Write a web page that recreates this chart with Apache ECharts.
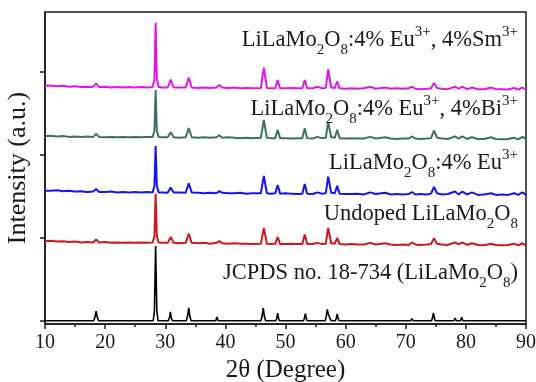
<!DOCTYPE html>
<html>
<head>
<meta charset="utf-8">
<script src="https://cdn.jsdelivr.net/npm/echarts@6.0.0/dist/echarts.min.js"></script>
<style>
  html, body { margin: 0; padding: 0; background: #fff; }
  #chart { width: 536px; height: 382px; }
</style>
</head>
<body>
<div id="chart"></div>
<script>
// XRD patterns: [2theta, intensity above own baseline]
const jcpdsPattern = [
  [10, 0], [18.1, 0], [18.3, 0.04], [18.5, 0.115], [18.7, 0.04], [18.9, 0],
  [28.0, 0], [28.2, 0.12], [28.4, 0.9], [28.6, 0.12], [28.8, 0],
  [30.5, 0], [30.7, 0.035], [30.85, 0.105], [31.0, 0.035], [31.2, 0],
  [33.5, 0], [33.7, 0.05], [33.9, 0.155], [34.1, 0.05], [34.3, 0],
  [38.4, 0], [38.6, 0.045], [38.8, 0], [45.9, 0], [46.1, 0.05], [46.3, 0.15], [46.5, 0.05], [46.7, 0],
  [48.4, 0], [48.55, 0.03], [48.7, 0.09], [48.85, 0.03], [49.0, 0],
  [53.0, 0], [53.15, 0.03], [53.3, 0.085], [53.45, 0.03], [53.6, 0],
  [56.6, 0], [56.8, 0.06], [56.95, 0.135], [57.1, 0.08], [57.25, 0.1], [57.4, 0.03], [57.6, 0],
  [58.3, 0], [58.45, 0.03], [58.6, 0.08], [58.75, 0.03], [58.9, 0],
  [63.9, 0], [64.1, 0.02], [64.3, 0], [66.4, 0], [66.6, 0.015], [66.8, 0],
  [70.8, 0], [71.0, 0.025], [71.2, 0], [74.3, 0], [74.45, 0.035], [74.6, 0.095], [74.75, 0.035], [74.9, 0],
  [78.0, 0], [78.2, 0.03], [78.4, 0], [79.1, 0], [79.3, 0.04], [79.5, 0],
  [80.8, 0], [81.0, 0.02], [81.2, 0], [83.8, 0], [84.0, 0.015], [84.2, 0],
  [87.7, 0], [87.9, 0.015], [88.1, 0], [89.1, 0], [89.3, 0.02], [89.5, 0], [90, 0]
];

const undopedPattern = [
  [10, 0.01], [11, 0.015], [12, 0.005], [13, 0.01], [14, 0], [15, 0.005], [16, -0.005], [17, 0],
  [18.0, -0.005], [18.5, 0.03], [19.0, -0.005], [20, 0], [21, -0.01], [22, -0.005], [23, -0.01],
  [24, -0.005], [25, -0.01], [26, -0.005], [27, -0.01], [27.9, -0.005], [28.2, 0.07], [28.4, 0.58],
  [28.6, 0.07], [28.9, -0.005], [29.5, -0.01], [30.4, -0.01], [30.9, 0.06], [31.4, -0.01],
  [32.3, -0.015], [33.4, -0.01], [33.9, 0.1], [34.4, -0.01], [35.5, -0.015], [36.5, -0.01],
  [37.5, -0.02], [38.5, -0.01], [39.0, 0.01], [39.5, -0.015], [40.5, -0.02], [41.5, -0.015],
  [42.5, -0.02], [43.5, -0.02], [44.5, -0.025], [45.9, -0.02], [46.4, 0.17], [46.9, -0.02],
  [47.5, -0.025], [48.3, -0.02], [48.7, 0.06], [49.1, -0.025], [50, -0.025], [51, -0.02],
  [52, -0.025], [52.8, -0.025], [53.2, 0.09], [53.6, -0.025], [54.5, -0.025], [55.3, -0.01],
  [56, -0.025], [56.7, -0.02], [57.1, 0.17], [57.6, -0.015], [58.2, -0.02], [58.6, 0.05],
  [59.0, -0.025], [60, -0.03], [61, -0.025], [62, -0.03], [63, -0.03], [64.1, -0.01], [65, -0.03],
  [66.6, -0.015], [67.5, -0.03], [68.5, -0.035], [69.5, -0.03], [70.5, -0.035], [71.0, -0.005],
  [71.6, -0.03], [72.5, -0.035], [73.5, -0.03], [74.2, -0.025], [74.7, 0.045], [75.2, -0.02],
  [76, -0.03], [77, -0.035], [78.2, -0.005], [78.8, -0.03], [79.4, -0.005], [80.2, -0.035],
  [81.0, -0.015], [82, -0.035], [83, -0.04], [84.2, -0.02], [85, -0.035], [86, -0.04], [87, -0.035],
  [88.0, -0.02], [88.7, -0.04], [89.4, -0.015], [90, -0.04]
];

const euPattern = [
  [10, 0.01], [11, 0.01], [12, 0.015], [13, 0.005], [14, 0.01], [15, 0], [16, 0.005], [17, -0.005],
  [18.0, 0], [18.5, 0.03], [19.0, -0.005], [20, -0.005], [21, 0], [22, -0.01], [23, -0.005],
  [24, -0.01], [25, -0.005], [26, -0.01], [27, -0.005], [27.9, -0.01], [28.2, 0.07], [28.4, 0.55],
  [28.6, 0.07], [28.9, -0.01], [29.5, -0.01], [30.4, -0.015], [30.9, 0.05], [31.4, -0.01],
  [32.3, -0.01], [33.4, -0.015], [33.9, 0.1], [34.4, -0.01], [35.5, -0.015], [36.5, -0.02],
  [37.5, -0.015], [38.5, -0.02], [39.0, 0.005], [39.5, -0.015], [40.5, -0.02], [41.5, -0.02],
  [42.5, -0.015], [43.5, -0.025], [44.5, -0.02], [45.9, -0.02], [46.4, 0.19], [46.9, -0.02],
  [47.5, -0.025], [48.3, -0.02], [48.7, 0.08], [49.1, -0.025], [50, -0.02], [51, -0.025],
  [52, -0.03], [52.8, -0.025], [53.2, 0.09], [53.6, -0.025], [54.5, -0.03], [55.3, -0.01],
  [56, -0.025], [56.7, -0.02], [57.1, 0.18], [57.6, -0.015], [58.2, -0.02], [58.6, 0.07],
  [59.0, -0.025], [60, -0.03], [61, -0.03], [62, -0.025], [63, -0.035], [64.1, -0.01], [65, -0.03],
  [66.6, -0.015], [67.5, -0.035], [68.5, -0.03], [69.5, -0.035], [70.5, -0.03], [71.0, -0.005],
  [71.6, -0.035], [72.5, -0.03], [73.5, -0.035], [74.2, -0.025], [74.7, 0.055], [75.2, -0.02],
  [76, -0.035], [77, -0.03], [78.2, 0], [78.8, -0.035], [79.4, 0], [80.2, -0.035], [81.0, -0.01],
  [82, -0.04], [83, -0.035], [84.2, -0.02], [85, -0.04], [86, -0.035], [87, -0.04], [88.0, -0.02],
  [88.7, -0.04], [89.4, -0.01], [90, -0.04]
];

const euBiPattern = [
  [10, 0.005], [11, 0.01], [12, 0], [13, 0.005], [14, -0.005], [15, 0], [16, -0.005], [17, 0],
  [18.0, -0.005], [18.5, 0.03], [19.0, -0.005], [20, -0.01], [21, -0.005], [22, -0.01], [23, -0.005],
  [24, -0.01], [25, -0.005], [26, -0.01], [27, -0.005], [27.9, -0.005], [28.2, 0.07], [28.4, 0.56],
  [28.6, 0.07], [28.9, -0.005], [29.5, -0.01], [30.4, -0.01], [30.9, 0.05], [31.4, -0.01],
  [32.3, -0.015], [33.4, -0.01], [33.9, 0.1], [34.4, -0.01], [35.5, -0.015], [36.5, -0.01],
  [37.5, -0.015], [38.5, -0.01], [39.0, 0.015], [39.5, -0.015], [40.5, -0.01], [41.5, -0.015],
  [42.5, -0.02], [43.5, -0.015], [44.5, -0.02], [45.9, -0.015], [46.4, 0.2], [46.9, -0.015],
  [47.5, -0.02], [48.3, -0.02], [48.7, 0.08], [49.1, -0.02], [50, -0.02], [51, -0.025],
  [52, -0.02], [52.8, -0.02], [53.2, 0.1], [53.6, -0.02], [54.5, -0.025], [55.3, -0.005],
  [56, -0.02], [56.7, -0.015], [57.1, 0.17], [57.6, -0.01], [58.2, -0.015], [58.6, 0.08],
  [59.0, -0.02], [60, -0.025], [61, -0.02], [62, -0.025], [63, -0.025], [64.1, -0.005], [65, -0.025],
  [66.6, -0.01], [67.5, -0.025], [68.5, -0.03], [69.5, -0.025], [70.5, -0.025], [71.0, 0],
  [71.6, -0.025], [72.5, -0.03], [73.5, -0.025], [74.2, -0.02], [74.7, 0.07], [75.2, -0.015],
  [76, -0.025], [77, -0.03], [78.2, 0], [78.8, -0.025], [79.4, 0], [80.2, -0.03], [81.0, -0.01],
  [82, -0.03], [83, -0.03], [84.2, -0.01], [85, -0.03], [86, -0.035], [87, -0.03], [88.0, -0.015],
  [88.7, -0.035], [89.4, -0.005], [90, -0.03]
];

const euSmPattern = [
  [10, 0.01], [11, 0.015], [12, 0.005], [13, 0.01], [14, 0], [15, 0.005], [16, -0.005], [17, 0],
  [17.9, -0.005], [18.5, 0.04], [19.0, -0.005], [20, 0], [21, -0.01], [22, -0.005], [23, -0.01],
  [24, -0.005], [25, -0.01], [26, -0.005], [27, -0.01], [27.9, -0.005], [28.2, 0.09], [28.4, 0.77],
  [28.6, 0.09], [28.9, -0.005], [29.5, -0.01], [30.4, -0.01], [30.9, 0.085], [31.4, -0.01],
  [32.3, -0.01], [33.4, -0.01], [33.9, 0.11], [34.4, -0.01], [35.5, -0.015], [36.5, -0.01],
  [37.5, -0.015], [38.5, -0.01], [39.0, 0.02], [39.5, -0.01], [40.5, -0.015], [41.5, -0.01],
  [42.5, -0.02], [43.5, -0.015], [44.5, -0.02], [45.9, -0.015], [46.4, 0.23], [46.9, -0.015],
  [47.5, -0.02], [48.3, -0.02], [48.7, 0.08], [49.1, -0.02], [50, -0.02], [51, -0.015],
  [52, -0.02], [52.8, -0.02], [53.2, 0.08], [53.6, -0.02], [54.5, -0.02], [55.3, 0], [56, -0.02],
  [56.7, -0.015], [57.1, 0.21], [57.6, -0.01], [58.2, -0.015], [58.6, 0.06], [59.0, -0.02],
  [60, -0.025], [61, -0.02], [62, -0.025], [63, -0.02], [64.1, 0], [65, -0.025], [66.6, -0.01],
  [67.5, -0.025], [68.5, -0.02], [69.5, -0.025], [70.5, -0.02], [71.0, 0], [71.6, -0.025],
  [72.5, -0.03], [73.5, -0.025], [74.2, -0.02], [74.7, 0.045], [75.2, -0.015], [76, -0.025],
  [77, -0.03], [78.2, 0], [78.8, -0.025], [79.4, 0], [80.2, -0.03], [81.0, -0.01], [82, -0.03],
  [83, -0.03], [84.2, -0.01], [85, -0.03], [86, -0.03], [87, -0.035], [88.0, -0.015],
  [88.7, -0.035], [89.4, -0.01], [90, -0.035]
];

// vertical offsets of the stacked patterns (same order as patterns)
const patterns = [jcpdsPattern, undopedPattern, euPattern, euBiPattern, euSmPattern];
const offsets = [0, 0.948, 1.556, 2.22, 2.82];
const seriesNames = ['JCPDS 18-734', 'Undoped', '4% Eu', '4% Eu, 4% Bi', '4% Eu, 4% Sm'];
const xTicks = [10, 20, 30, 40, 50, 60, 70, 80, 90];
const yTickValues = [0, 1, 2, 3];

// label texts (rich text markup for sub/superscripts)
const labelTexts = [
  '{n|JCPDS no. 18-734 (LiLaMo}{sub|2}{n|O}{sub|8}{n|)}',
  '{n|Undoped LiLaMo}{sub|2}{n|O}{sub|8}',
  '{n|LiLaMo}{sub|2}{n|O}{sub|8}{n|:4% Eu}{sup|3+}',
  '{n|LiLaMo}{sub|2}{n|O}{sub|8}{n|:4% Eu}{sup|3+}{n|, 4%Bi}{sup|3+}',
  '{n|LiLaMo}{sub|2}{n|O}{sub|8}{n|:4% Eu}{sup|3+}{n|, 4%Sm}{sup|3+}'
];
const labelY = [273, 214, 163, 109, 40];

const colors = ['#000000', '#d4141c', '#1414f0', '#3c6e6a', '#e414e8'];
const serif = 'Liberation Serif';
const ink = '#1a1a1a';

const rich = {
  n: { fontSize: 22.5, fontFamily: serif, color: ink, lineHeight: 40 },
  sub: { fontSize: 15, fontFamily: serif, color: ink, lineHeight: 26, padding: [20, 0, 0, 0] },
  sup: { fontSize: 15, fontFamily: serif, color: ink, lineHeight: 26, padding: [0, 0, 16, 0] }
};

const chart = echarts.init(document.getElementById('chart'), null, { renderer: 'canvas' });

const option = {
  animation: false,
  backgroundColor: '#ffffff',
  grid: {
    left: 45, right: 10, top: 12, bottom: 58,
    outerBoundsMode: 'none',
    containLabel: false,
    show: true, borderColor: ink, borderWidth: 1.5, backgroundColor: 'transparent'
  },
  xAxis: {
    type: 'value',
    min: xTicks[0],
    max: xTicks[xTicks.length - 1],
    interval: 10,
    name: '2θ (Degree)',
    nameLocation: 'middle',
    nameGap: 32,
    nameTextStyle: { fontFamily: serif, fontSize: 25, color: ink },
    axisLine: { onZero: false, lineStyle: { color: ink, width: 1.5 } },
    axisTick: { inside: false, length: 5, lineStyle: { color: ink, width: 1.5 } },
    minorTick: { show: true, splitNumber: 2, length: 3, lineStyle: { color: ink, width: 1.5 } },
    axisLabel: { fontFamily: serif, fontSize: 20, color: ink, margin: 9 },
    splitLine: { show: false }
  },
  yAxis: {
    type: 'value',
    min: -0.04,
    max: 3.72,
    name: 'Intensity (a.u.)',
    nameLocation: 'middle',
    nameGap: 14,
    nameTextStyle: { fontFamily: serif, fontSize: 26, color: ink },
    axisLine: { show: true, lineStyle: { color: ink, width: 1.5 } },
    axisTick: { show: true, inside: false, length: 5, customValues: yTickValues, lineStyle: { color: ink, width: 1.5 } },
    axisLabel: { show: false },
    splitLine: { show: false }
  },
  series: patterns.map((pat, i) => ({
    name: seriesNames[i],
    type: 'line',
    showSymbol: false,
    symbol: 'none',
    data: pat.map(p => [p[0], p[1] + offsets[i]]),
    lineStyle: { color: colors[i], width: i === 0 ? 1.6 : 2 },
    z: 2 + i
  })),
  graphic: labelTexts.map((t, i) => ({
    type: 'text',
    x: 518,
    y: labelY[i],
    z: 20,
    style: {
      text: t,
      rich: rich,
      align: 'right',
      verticalAlign: 'middle',
      textAlign: 'right',
      textVerticalAlign: 'middle',
      fontFamily: serif,
      fontSize: 22.5,
      fill: ink
    }
  }))
};

chart.setOption(option);
</script>
</body>
</html>
